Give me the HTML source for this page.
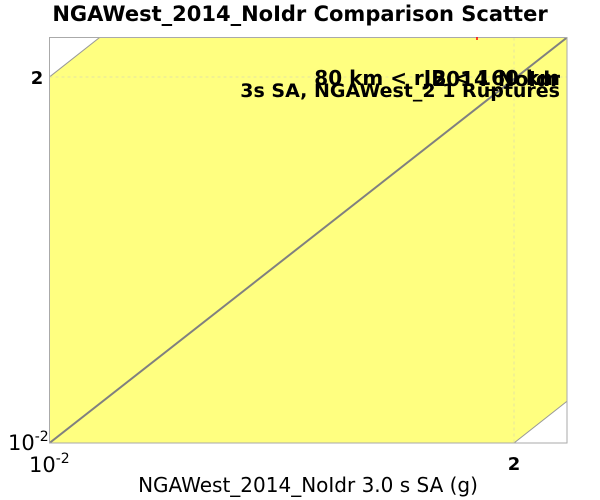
<!DOCTYPE html>
<html><head><meta charset="utf-8"><style>
html,body{margin:0;padding:0;background:#fff;overflow:hidden;width:600px;height:500px}
svg{display:block}
svg text{font-family:"DejaVu Sans","Liberation Sans",sans-serif}
</style></head><body>
<svg width="600" height="500" viewBox="0 0 600 500" xmlns="http://www.w3.org/2000/svg">
<text x="300" y="21" text-anchor="middle" font-size="21" font-weight="bold">NGAWest_2014_NoIdr Comparison Scatter</text>
<g id="plot"></g>
<text x="308" y="492" text-anchor="middle" font-size="20">NGAWest_2014_NoIdr 3.0 s SA (g)</text>
</svg>
<script>
const xDomain = [0.01, 3.66];
const yDomain = [0.01, 3.54];
const bandFactor = [200];
const xTicks = [0.01, 2];
const yTicks = [0.01, 2];
const L=49.5,R=567,T=37.5,B=443;
const xs=v=>L+(Math.log10(v)-Math.log10(xDomain[0]))/(Math.log10(xDomain[1])-Math.log10(xDomain[0]))*(R-L);
const ys=v=>B-(Math.log10(v)-Math.log10(yDomain[0]))/(Math.log10(yDomain[1])-Math.log10(yDomain[0]))*(B-T);
const NS="http://www.w3.org/2000/svg";
const g=document.getElementById('plot');
function mk(t,a){const e=document.createElementNS(NS,t);for(const k in a)e.setAttribute(k,a[k]);g.appendChild(e);return e;}
const clip=mk('clipPath',{id:'c'});
const cr=document.createElementNS(NS,'rect');cr.setAttribute('x',L);cr.setAttribute('y',T);cr.setAttribute('width',R-L);cr.setAttribute('height',B-T);clip.appendChild(cr);
const f=bandFactor[0];
const x0=xDomain[0]/10,x1=xDomain[1]*10;
const pts=[[x0,x0*f],[x1,x1*f],[x1,x1/f],[x0,x0/f]].map(p=>xs(p[0])+','+ys(p[1])).join(' ');
const band=mk('polygon',{points:pts,fill:'#ffff80',stroke:'#999','stroke-width':1,'clip-path':'url(#c)'});


xTicks.forEach(v=>{if(v>xDomain[0]){const l=mk('line',{x1:xs(v),x2:xs(v),y1:T,y2:B,stroke:'#e6e6a0','stroke-dasharray':'3,3'});}});
yTicks.forEach(v=>{if(v>yDomain[0]){const l=mk('line',{x1:L,x2:R,y1:ys(v),y2:ys(v),stroke:'#e6e6a0','stroke-dasharray':'3,3'});}});
const diag=mk('line',{x1:xs(xDomain[0]),y1:ys(yDomain[0]),x2:R,y2:T,stroke:'#808080','stroke-width':2,'clip-path':'url(#c)'});


const fr=mk('rect',{x:L,y:T,width:R-L,height:B-T,fill:'none',stroke:'#aaa'});


const rp=mk('line',{x1:477,x2:477,y1:37,y2:40,stroke:'#f00','stroke-width':1.5});


function txt(s,a,name){const e=mk('text',a);e.innerHTML=s;return e;}
txt('80 km &lt; rJB &lt; 160 km',{x:560,y:85,'text-anchor':'end','font-size':20,'font-weight':'bold'},'annotation-distance');
txt('2014_NoIdr',{x:560,y:86,'text-anchor':'end','font-size':20,'font-weight':'bold'},'annotation-model');
txt('3s SA, NGAWest_2 1 Ruptures',{x:560,y:97,'text-anchor':'end','font-size':19,'font-weight':'bold'},'annotation-ruptures');
txt('2',{x:37,y:ys(2)+7,'text-anchor':'middle','font-size':18,'font-weight':'bold'},'y-tick-2');
txt('10<tspan dy="-9" font-size="14">-2</tspan>',{x:8,y:450,'font-size':21},'y-tick-0.01');
txt('10<tspan dy="-9" font-size="14">-2</tspan>',{x:29,y:472,'font-size':21},'x-tick-0.01');
txt('2',{x:xs(2),y:470,'text-anchor':'middle','font-size':18,'font-weight':'bold'},'x-tick-2');
</script>
</body></html>
